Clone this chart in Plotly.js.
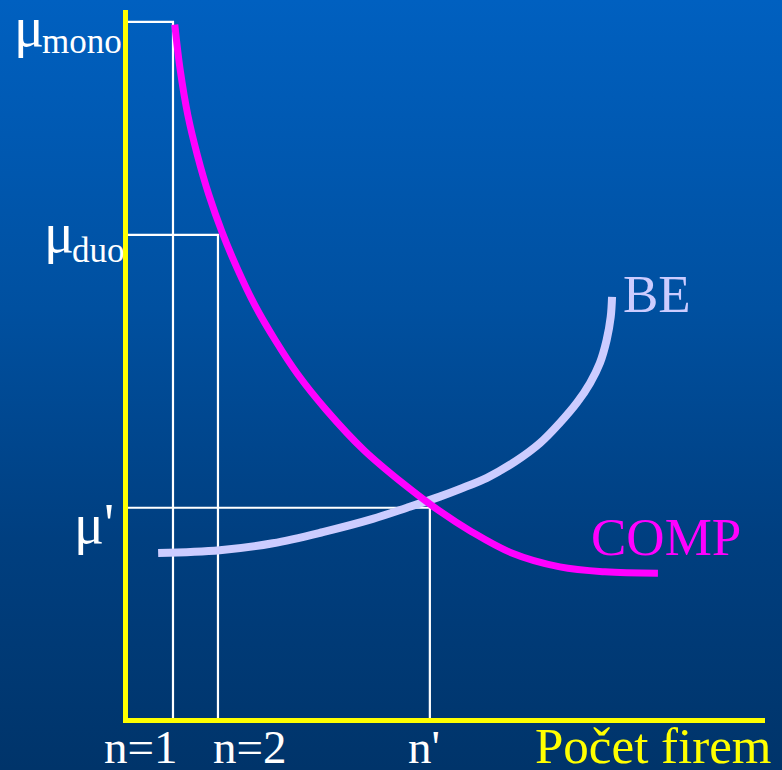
<!DOCTYPE html>
<html>
<head>
<meta charset="utf-8">
<script src="https://cdn.plot.ly/plotly-3.0.1.min.js"></script>
<style>
html,body{margin:0;padding:0;}
body{width:782px;height:770px;overflow:hidden;background:linear-gradient(to bottom,#0060c0 0%,#0050a0 40%,#003f80 70%,#00346a 100%);}
#chart{width:782px;height:770px;}
</style>
</head>
<body>
<div id="chart"></div>
<script>
// Number of firms (x) and markup level (y)
var compN  = [1.04, 1.16, 1.33, 1.54, 1.80, 2.09, 2.42, 2.82, 3.27, 3.78, 4.40, 5.24, 6.13, 6.93, 7.60, 8.53, 9.60, 10.60, 11.78];
var compMu = [99.6, 93.1, 86.6, 80.9, 75.1, 69.8, 64.7, 59.3, 54.3, 49.3, 44.3, 38.5, 33.6, 29.7, 26.9, 23.7, 21.7, 21.0, 20.8];

var beN  = [0.67, 2.04, 3.22, 4.33, 5.44, 6.20, 6.93, 7.38, 7.98, 8.62, 9.16, 9.60, 9.98, 10.27, 10.49, 10.64, 10.73, 10.76];
var beMu = [23.7, 24.1, 25.1, 26.7, 28.6, 30.2, 31.8, 32.9, 34.5, 36.9, 39.5, 42.4, 45.3, 48.1, 51.0, 54.3, 57.6, 60.5];

// Reference levels: number of firms and markups
var refN  = [1, 2, 6.71];
var refMu = [100, 69.4, 30.2];
var refSymbols = ['\u03bc', '\u03bc', "\u03bc'"];
var refSubs = ['mono', 'duo', ''];
var tickLabels = ['n=1', 'n=2', "n'"];
var axisTitle = 'Počet firem';
var curveNames = ['COMP', 'BE'];

var serif = 'Liberation Serif, Times New Roman, serif';

// plot area geometry (pixels) for placing free text labels
var L = 128, T = 10, W = 637, H = 708;
function px(x) { return (x - L) / W; }
function py(y) { return (T + H - y) / H; }
function label(text, x, baseline, size, color, anchor) {
  return {
    xref: 'paper', yref: 'paper', x: px(x), y: py(baseline - 0.34 * size),
    text: text, showarrow: false, xanchor: anchor || 'left', yanchor: 'middle',
    borderpad: 0, font: {family: serif, size: size, color: color}
  };
}

var traces = [];
for (var i = 0; i < refN.length; i++) {
  traces.push({
    x: [0, refN[i], refN[i]],
    y: [refMu[i], refMu[i], 0],
    mode: 'lines',
    line: {color: '#ffffff', width: 2.2},
    hoverinfo: 'skip',
    cliponaxis: false
  });
}
traces.push({
  x: beN, y: beMu, mode: 'lines', name: curveNames[1],
  line: {color: '#ccccff', width: 8, shape: 'spline', smoothing: 1},
  cliponaxis: false
});
traces.push({
  x: compN, y: compMu, mode: 'lines', name: curveNames[0],
  line: {color: '#ff00ff', width: 7, shape: 'spline', smoothing: 1},
  cliponaxis: false
});

var annotations = [
  label(refSymbols[0], 13, 46, 56, '#ffffff'),
  label(refSubs[0], 41, 53, 35, '#ffffff'),
  label(refSymbols[1], 43, 252, 56, '#ffffff'),
  label(refSubs[1], 71, 262, 35, '#ffffff'),
  label(refSymbols[2], 73, 543, 56, '#ffffff'),
  label(tickLabels[0], 141, 763, 47, '#ffffff', 'center'),
  label(tickLabels[1], 250, 763, 47, '#ffffff', 'center'),
  label(tickLabels[2], 424, 763, 47, '#ffffff', 'center'),
  label(axisTitle, 534, 763, 51, '#ffff00'),
  label(curveNames[1], 622, 312, 53, '#ccccff'),
  label(curveNames[0], 590, 555, 53, '#ff00ff')
];

var layout = {
  width: 782, height: 770,
  margin: {l: L, r: 782 - L - W, t: T, b: 770 - T - H, pad: 0},
  paper_bgcolor: 'rgba(0,0,0,0)',
  plot_bgcolor: 'rgba(0,0,0,0)',
  showlegend: false,
  xaxis: {range: [0, 14.16], showline: true, linecolor: '#ffff00', linewidth: 5,
          showgrid: false, zeroline: false, showticklabels: false, ticks: ''},
  yaxis: {range: [0, 101.7], showline: true, linecolor: '#ffff00', linewidth: 5,
          showgrid: false, zeroline: false, showticklabels: false, ticks: ''},
  annotations: annotations
};

Plotly.newPlot('chart', traces, layout, {displayModeBar: false, staticPlot: true});
</script>
</body>
</html>
